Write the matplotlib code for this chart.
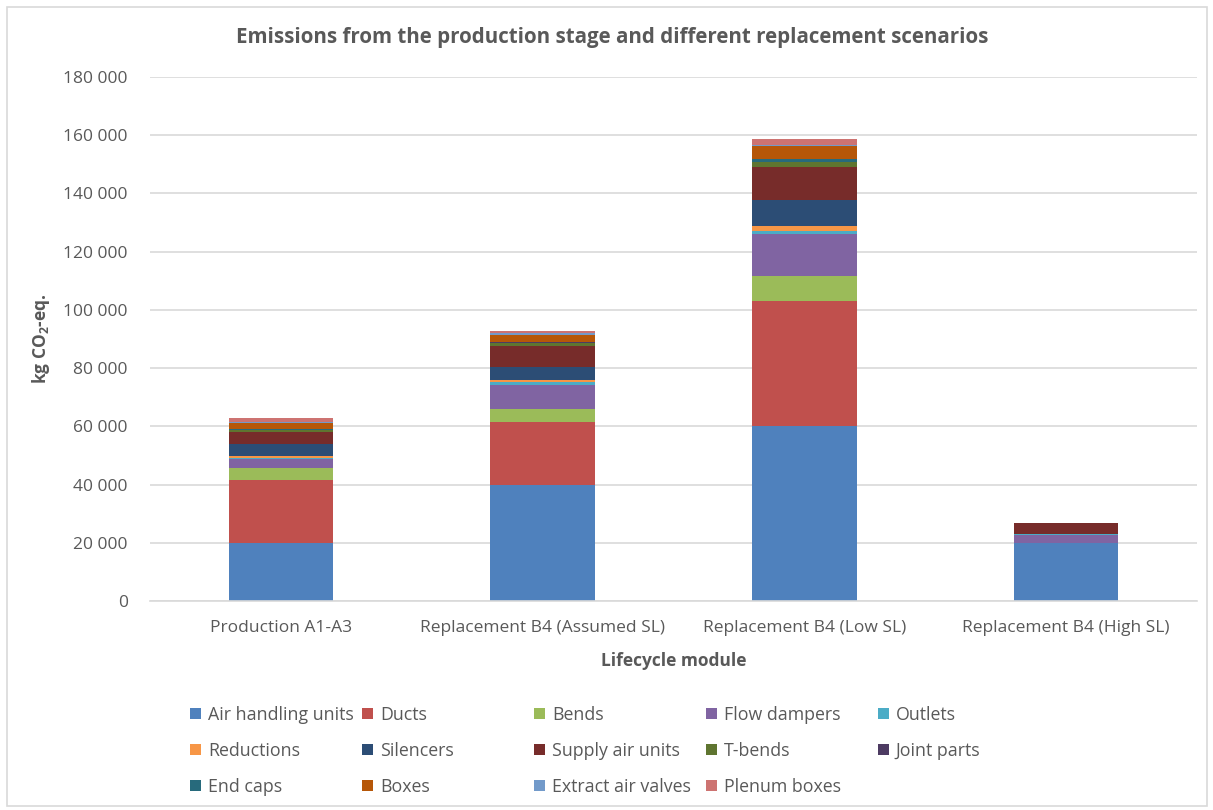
import matplotlib
matplotlib.use("Agg")
import matplotlib.pyplot as plt
import matplotlib.patches as mpatches
import numpy as np

plt.rcParams['font.family'] = ['Open Sans', 'DejaVu Sans']
plt.rcParams['mathtext.default'] = 'regular'

categories = ["Production A1-A3", "Replacement B4 (Assumed SL)",
              "Replacement B4 (Low SL)", "Replacement B4 (High SL)"]

series_names = ["Air handling units", "Ducts", "Bends", "Flow dampers", "Outlets",
                "Reductions", "Silencers", "Supply air units", "T-bends", "Joint parts",
                "End caps", "Boxes", "Extract air valves", "Plenum boxes"]

air_handling_units = [20000, 40000, 60000, 20000]
ducts              = [21600, 21600, 43200, 0]
bends              = [4200, 4400, 8400, 0]
flow_dampers       = [3000, 8200, 14600, 2750]
outlets            = [300, 1000, 900, 250]
reductions         = [800, 800, 1800, 0]
silencers          = [4200, 4500, 9000, 0]
supply_air_units   = [3900, 7200, 11200, 3700]
t_bends            = [700, 900, 1700, 0]
joint_parts        = [200, 200, 100, 0]
end_caps           = [200, 300, 800, 0]
boxes              = [2200, 2300, 4600, 0]
extract_air_valves = [300, 500, 300, 0]
plenum_boxes       = [1100, 1000, 2200, 100]

colors = ["#4F81BD", "#C0504D", "#9BBB59", "#8064A2", "#4BACC6",
          "#F79646", "#2C4D75", "#772C2A", "#5F7530", "#4D3B62",
          "#276A7C", "#B65708", "#729ACA", "#CD7371"]

series = [air_handling_units, ducts, bends, flow_dampers, outlets, reductions,
          silencers, supply_air_units, t_bends, joint_parts, end_caps, boxes,
          extract_air_valves, plenum_boxes]

gray = "#595959"
grid = "#D9D9D9"

fig = plt.figure(figsize=(12.13, 8.10), dpi=100)
ax = fig.add_axes([150/1213, 1-601/810, (1197-150)/1213, (601-77)/810])

x = np.arange(len(categories))
bottom = np.zeros(len(categories))
handles = []
for name, vals, c in zip(series_names, series, colors):
    v = np.array(vals, dtype=float)
    b = ax.bar(x, v, width=0.4, bottom=bottom, color=c, label=name, linewidth=0)
    handles.append(b)
    bottom += v

ax.set_xlim(-0.5, len(categories) - 0.5)
ax.set_ylim(0, 180000)
ax.set_yticks(np.arange(0, 180001, 20000))
ax.set_yticklabels([f"{int(t):,}".replace(",", " ") for t in np.arange(0, 180001, 20000)])
ax.set_xticks(x)
ax.set_xticklabels(categories)
ax.tick_params(axis='both', length=0, labelsize=12.5, labelcolor=gray)
ax.tick_params(axis='y', pad=16)
ax.tick_params(axis='x', pad=14)
ax.yaxis.grid(True, color=grid, linewidth=1.2)
ax.set_axisbelow(True)
for s in ['top', 'right', 'left']:
    ax.spines[s].set_visible(False)
ax.spines['bottom'].set_color(grid)
ax.spines['bottom'].set_linewidth(1.2)

ax.set_xlabel("Lifecycle module", fontsize=12.5, fontweight='bold', color=gray, labelpad=11)
ax.set_ylabel("kg CO$_2$-eq.", fontsize=12.5, fontweight='bold', color=gray, labelpad=8)

fig.text(612/1213, 1-38/810, "Emissions from the production stage and different replacement scenarios",
         ha='center', va='center', fontsize=14.8, fontweight='bold', color=gray)

# legend: 5 fixed-width columns, row-major order
ncol = 5
col_x = [190, 362, 534, 706, 878]
for c in range(ncol):
    idx = list(range(c, len(series_names), ncol))
    leg = fig.legend([handles[i] for i in idx], [series_names[i] for i in idx],
                     loc='upper left', bbox_to_anchor=(col_x[c]/1213, 1-706/810),
                     frameon=False, fontsize=12.8, labelcolor=gray,
                     handlelength=0.6, handleheight=0.6, handletextpad=0.4,
                     labelspacing=1.0, borderpad=0, borderaxespad=0)

fig.patches.append(mpatches.Rectangle((7/1213, 4/810), 1200/1213, 799/810,
                                      transform=fig.transFigure, fill=False,
                                      edgecolor=grid, linewidth=1.2))

fig.savefig("out.png", dpi=100, facecolor='white')
